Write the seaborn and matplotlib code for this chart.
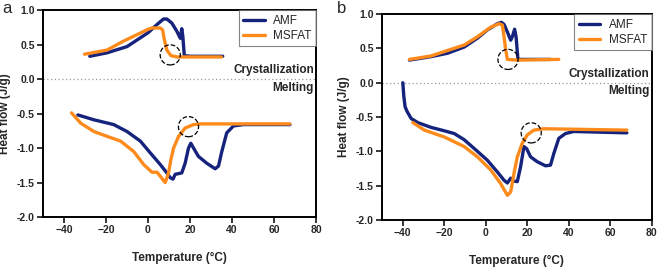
import numpy as np
import pandas as pd
import seaborn as sns
import matplotlib.pyplot as plt

# Plot style
sns.set_style("ticks")
plt.rcParams["font.family"] = ["Liberation Sans", "DejaVu Sans"]

# Panel a - crystallization (top) and melting (bottom) curves
a_amf_cry_t = [-27.7, -19.5, -10, 0, 4.3, 7.4, 9, 11.4, 13.8, 15.4, 16.1, 16.6, 17.3, 20, 35.6]
a_amf_cry_h = [0.33, 0.38, 0.47, 0.67, 0.79, 0.87, 0.87, 0.81, 0.69, 0.59, 0.73, 0.62, 0.34, 0.33, 0.33]
a_msf_cry_t = [-30.2, -19.5, -11.6, -6.8, 0, 1.9, 5.9, 7, 7.8, 9, 10.9, 13.8, 35]
a_msf_cry_h = [0.36, 0.42, 0.55, 0.62, 0.72, 0.74, 0.74, 0.71, 0.57, 0.42, 0.34, 0.32, 0.32]
a_amf_mel_t = [-33.4, -25.8, -16.3, -10, -3.6, 1.1, 5.9, 9, 10.6, 11.9, 13, 14.6, 16.1, 17.7,
               19.3, 20.4, 21.7, 24, 28, 32, 33.6, 35, 37.5, 40.7, 45.4, 67.6]
a_amf_mel_h = [-0.52, -0.59, -0.66, -0.76, -0.90, -1.07, -1.24, -1.36, -1.43, -1.45, -1.38, -1.37, -1.36, -1.22,
               -1.0, -0.93, -1.0, -1.12, -1.22, -1.30, -1.26, -1.07, -0.78, -0.68, -0.66, -0.66]
a_msf_mel_t = [-36.4, -32, -25.8, -19.5, -13, -6.8, -2, 1.9, 4.3, 5.9, 8.2, 9.8, 10.9, 12.2,
               14.6, 17.7, 21.7, 24.9, 67.6]
a_msf_mel_h = [-0.49, -0.64, -0.76, -0.83, -0.90, -1.05, -1.24, -1.35, -1.35, -1.41, -1.50, -1.36, -1.17, -1.0,
               -0.83, -0.71, -0.66, -0.65, -0.65]

# Panel b
b_amf_cry_t = [-36.8, -26.4, -18.4, -10.4, -4, 0.8, 5.6, 7.5, 8.8, 10.4, 12, 12.8, 13.9, 14.6, 15.5, 31.2]
b_amf_cry_h = [0.33, 0.38, 0.43, 0.52, 0.65, 0.77, 0.86, 0.88, 0.85, 0.74, 0.62, 0.67, 0.78, 0.67, 0.34, 0.34]
b_msf_cry_t = [-36.8, -26.4, -10.4, -4, 2.4, 6.4, 8, 8.8, 9.6, 10.4, 15, 35.2]
b_msf_cry_h = [0.34, 0.39, 0.55, 0.67, 0.81, 0.86, 0.84, 0.67, 0.48, 0.34, 0.33, 0.34]
b_amf_mel_t = [-40, -39.5, -38.9, -37.9, -36, -32.8, -26.4, -20, -15.2, -10.4, -4, 0.8, 5.6, 8.8,
               10.4, 12, 13.3, 15.2, 16.8, 18.4, 19.7, 21.6, 24.8, 28.8, 31.2, 32.8, 35.2, 38.4, 42.4, 68]
b_amf_mel_h = [0.0, -0.2, -0.35, -0.42, -0.52, -0.58, -0.65, -0.70, -0.74, -0.83, -1.0, -1.13, -1.30, -1.42,
               -1.46, -1.39, -1.43, -1.44, -1.22, -0.93, -0.96, -1.08, -1.15, -1.21, -1.20, -1.03, -0.81, -0.74, -0.71, -0.73]
b_msf_mel_t = [-35.2, -29.6, -20, -10.4, -4, 2.4, 7.2, 10.4, 12, 13.6, 15.2, 17.6, 20, 23.2, 28, 68]
b_msf_mel_h = [-0.58, -0.69, -0.79, -0.93, -1.08, -1.27, -1.47, -1.64, -1.59, -1.32, -1.08, -0.88, -0.76, -0.69, -0.67, -0.69]

# dashed circle markers (onset points)
a_circles = [(10.6, 0.35), (19.3, -0.69)]
b_circles = [(10.7, 0.34), (21.9, -0.73)]

amf_color = '#16237c'
msf_color = '#fd8b1c'

fig = plt.figure(figsize=(6.61, 2.71), dpi=100)
ax_a = fig.add_axes([0.065, 0.199, 0.413, 0.764])
ax_b = fig.add_axes([0.578, 0.188, 0.408, 0.760])

panels = [
    (ax_a, a_amf_cry_t, a_amf_cry_h, a_msf_cry_t, a_msf_cry_h,
     a_amf_mel_t, a_amf_mel_h, a_msf_mel_t, a_msf_mel_h, a_circles),
    (ax_b, b_amf_cry_t, b_amf_cry_h, b_msf_cry_t, b_msf_cry_h,
     b_amf_mel_t, b_amf_mel_h, b_msf_mel_t, b_msf_mel_h, b_circles),
]

for ax, act, ach, mct, mch, amt, amh, mmt, mmh, circ in panels:
    ax.axhline(0, color='#999999', lw=0.9, ls=(0, (1, 2)), zorder=1)
    sns.lineplot(x=act, y=ach, ax=ax, color=amf_color, lw=2.4, sort=False, label='AMF')
    sns.lineplot(x=amt, y=amh, ax=ax, color=amf_color, lw=2.4, sort=False)
    sns.lineplot(x=mct, y=mch, ax=ax, color=msf_color, lw=2.4, sort=False, label='MSFAT')
    sns.lineplot(x=mmt, y=mmh, ax=ax, color=msf_color, lw=2.4, sort=False)
    cx = [c[0] for c in circ]
    cy = [c[1] for c in circ]
    ax.scatter(cx, cy, s=210, facecolors='none', edgecolors='black', linewidths=0.9,
               linestyles='--', zorder=5)

    ax.set_xlim(-50, 80)
    ax.set_ylim(-2.0, 1.0)
    ax.set_xticks(np.arange(-40, 81, 20))
    ax.set_yticks(np.arange(-2.0, 1.01, 0.5))
    ax.set_yticklabels(['%.1f' % v for v in np.arange(-2.0, 1.01, 0.5)])
    ax.tick_params(axis='both', labelsize=7.5, width=1.3, length=4, pad=2)
    for lab in ax.get_xticklabels() + ax.get_yticklabels():
        lab.set_fontweight('bold')
    for sp in ax.spines.values():
        sp.set_linewidth(1.4)
        sp.set_color('black')
        sp.set_visible(True)

    ax.set_xlabel('Temperature (°C)', fontsize=8.5, fontweight='bold', labelpad=12)
    ax.set_ylabel('Heat flow (J/g)', fontsize=8.5, fontweight='bold', labelpad=4)

    ax.text(79, 0.04, 'Crystallization', ha='right', va='bottom', fontsize=8.5, fontweight='bold')
    ax.text(79, -0.04, 'Melting', ha='right', va='top', fontsize=8.5, fontweight='bold')

    leg = ax.legend(loc='upper right', fontsize=8.5, frameon=True, fancybox=False,
                    borderaxespad=0, handlelength=1.8, borderpad=0.4, labelspacing=0.25,
                    handletextpad=0.7)
    leg.get_frame().set_edgecolor('#666666')
    leg.get_frame().set_linewidth(0.8)

fig.text(0.003, 0.995, 'a', fontsize=12, va='top', ha='left')
fig.text(0.51, 0.995, 'b', fontsize=12, va='top', ha='left')

plt.savefig('out.png', dpi=100)
